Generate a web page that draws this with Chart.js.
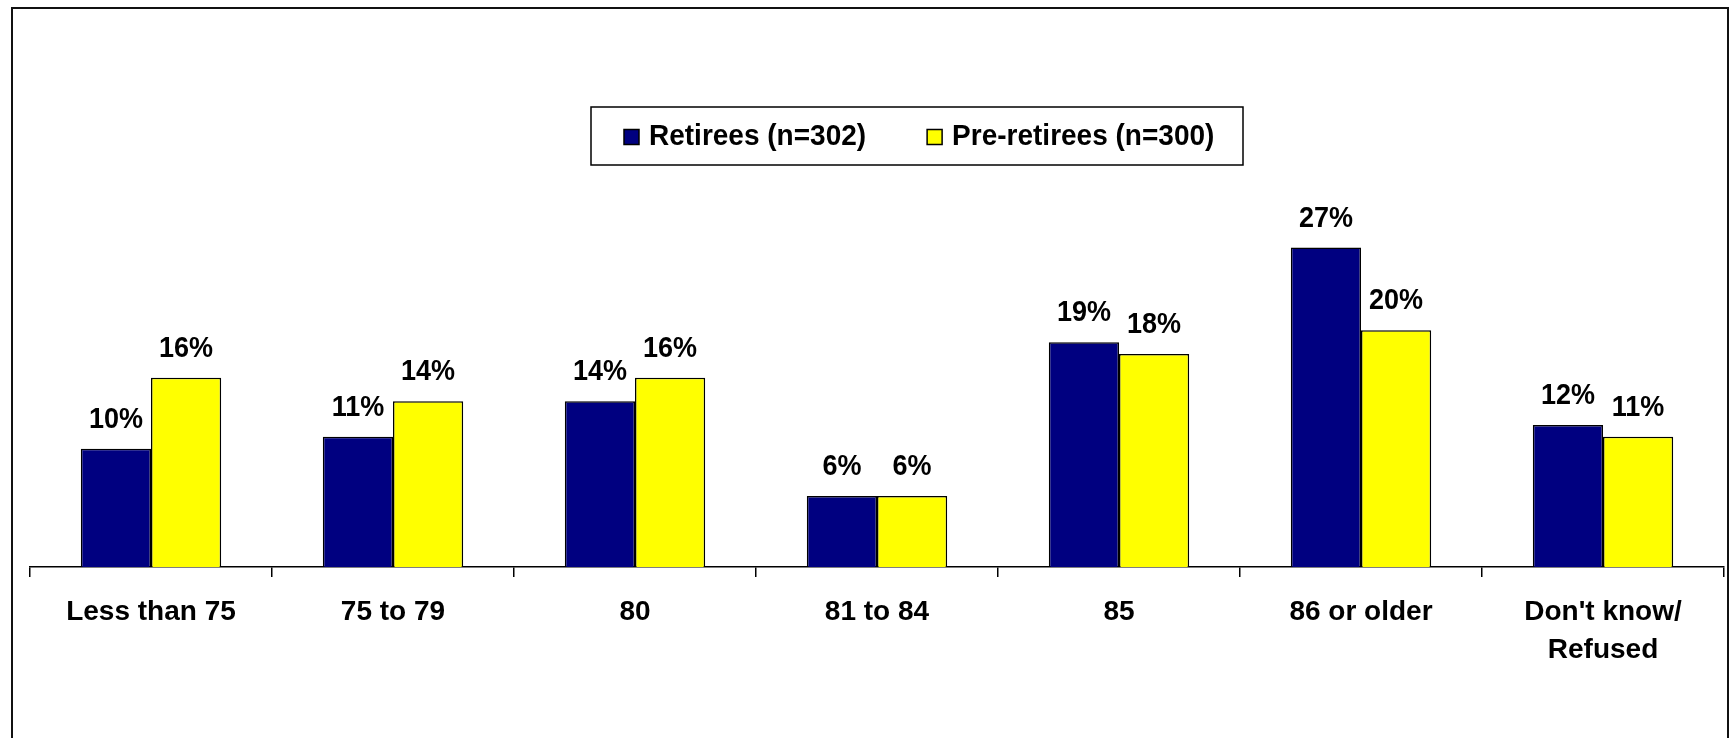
<!DOCTYPE html>
<html>
<head>
<meta charset="utf-8">
<title>Expected age at death</title>
<script src="https://cdn.jsdelivr.net/npm/chart.js@4/dist/chart.umd.min.js"></script>
<style>
  html, body { margin: 0; padding: 0; background: #ffffff; }
  #wrap { width: 1733px; height: 738px; }
</style>
</head>
<body>
<div id="wrap"><canvas id="chart" width="1733" height="738"></canvas></div>
<script>
// Age categories (two-line labels are given as arrays)
const categories = ['Less than 75', '75 to 79', '80', '81 to 84', '85', '86 or older', ["Don't know/", 'Refused']];

// Percent of respondents in each group
const retirees = [10, 11, 14, 6, 19, 27, 12];
const preRetirees = [16, 14, 16, 6, 18, 20, 11];

const seriesNames = ['Retirees (n=302)', 'Pre-retirees (n=300)'];

const FONT = '"Liberation Sans", Arial, Helvetica, sans-serif';

// Outer frame around the whole chart
const framePlugin = {
  id: 'frame',
  beforeDraw(chart) {
    const ctx = chart.ctx;
    ctx.save();
    ctx.fillStyle = '#ffffff';
    ctx.fillRect(0, 0, chart.width, chart.height);
    ctx.strokeStyle = '#111111';
    ctx.lineWidth = 2;
    ctx.strokeRect(12, 8, 1716, 800);
    ctx.restore();
  }
};

// Percentage labels above every bar, drawn slightly taller than wide
const valueLabels = {
  id: 'valueLabels',
  afterDatasetsDraw(chart) {
    const ctx = chart.ctx;
    ctx.save();
    ctx.font = 'bold 27px ' + FONT;
    ctx.fillStyle = '#000000';
    ctx.textAlign = 'center';
    ctx.textBaseline = 'alphabetic';
    chart.data.datasets.forEach((ds, i) => {
      chart.getDatasetMeta(i).data.forEach((bar, j) => {
        ctx.save();
        ctx.translate(bar.x, bar.y - 21);
        ctx.scale(1, 1.1);
        ctx.fillText(ds.data[j] + '%', 0, 0);
        ctx.restore();
      });
    });
    ctx.restore();
  }
};

// Boxed legend in the upper middle
const boxedLegend = {
  id: 'boxedLegend',
  afterDraw(chart) {
    const ctx = chart.ctx;
    const box = { x: 591, y: 107, w: 652, h: 58 };
    ctx.save();
    ctx.fillStyle = '#ffffff';
    ctx.fillRect(box.x, box.y, box.w, box.h);
    ctx.strokeStyle = '#000000';
    ctx.lineWidth = 1.5;
    ctx.strokeRect(box.x, box.y, box.w, box.h);
    ctx.font = 'bold 28px ' + FONT;
    ctx.textBaseline = 'middle';
    ctx.textAlign = 'left';
    const midY = box.y + box.h / 2 + 1;
    const sq = 15;
    let x = box.x + 33;
    chart.data.datasets.forEach((ds) => {
      ctx.fillStyle = ds.backgroundColor;
      ctx.fillRect(x, midY - sq / 2, sq, sq);
      ctx.strokeStyle = '#000000';
      ctx.lineWidth = 1.5;
      ctx.strokeRect(x, midY - sq / 2, sq, sq);
      x += sq + 10;
      ctx.fillStyle = '#000000';
      ctx.save();
      ctx.translate(x, midY);
      ctx.scale(1, 1.08);
      ctx.fillText(ds.label, 0, 0);
      ctx.restore();
      x += ctx.measureText(ds.label).width + 61;
    });
    ctx.restore();
  }
};

new Chart(document.getElementById('chart'), {
  type: 'bar',
  data: {
    labels: categories,
    datasets: [
      {
        label: seriesNames[0],
        data: retirees,
        backgroundColor: '#000080',
        borderColor: '#000000',
        borderWidth: 1.5,
        borderSkipped: 'bottom'
      },
      {
        label: seriesNames[1],
        data: preRetirees,
        backgroundColor: '#FFFF00',
        borderColor: '#000000',
        borderWidth: 1.5,
        borderSkipped: 'bottom'
      }
    ]
  },
  options: {
    responsive: false,
    animation: false,
    devicePixelRatio: 1,
    layout: { padding: { top: 212, left: 30, right: 9, bottom: 0 } },
    datasets: {
      bar: { categoryPercentage: 0.58, barPercentage: 1.0 }
    },
    plugins: {
      legend: { display: false },
      tooltip: { enabled: false },
      title: { display: false }
    },
    scales: {
      x: {
        offset: true,
        grid: {
          offset: true,
          drawOnChartArea: false,
          drawTicks: true,
          tickLength: 10,
          color: '#000000',
          lineWidth: 1.5
        },
        border: { display: true, color: '#000000', width: 1.5 },
        ticks: {
          color: '#000000',
          padding: 16,
          maxRotation: 0,
          autoSkip: false,
          font: { family: FONT, size: 28, weight: 'bold', lineHeight: 1.36 }
        },
        afterFit(scale) { scale.height = 171; }
      },
      y: {
        display: false,
        min: 0,
        max: 30
      }
    }
  },
  plugins: [framePlugin, valueLabels, boxedLegend]
});
</script>
</body>
</html>
